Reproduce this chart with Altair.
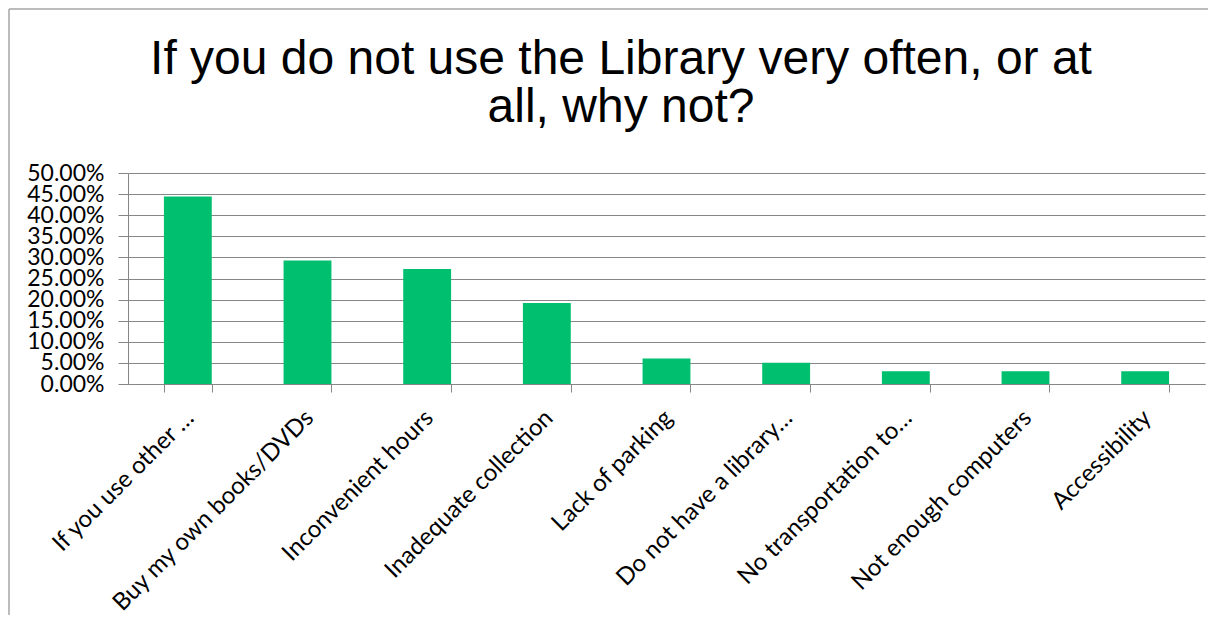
import altair as alt
import pandas as pd

categories = [
    "If you use other …",
    "Buy my own books/DVDs",
    "Inconvenient hours",
    "Inadequate collection",
    "Lack of parking",
    "Do not have a library…",
    "No transportation to…",
    "Not enough computers",
    "Accessibility",
]
values = [0.4444, 0.2929, 0.2727, 0.1919, 0.0606, 0.0505, 0.0303, 0.0303, 0.0303]
y_ticks = [0.0, 0.05, 0.10, 0.15, 0.20, 0.25, 0.30, 0.35, 0.40, 0.45, 0.50]
title_text = "If you do not use the Library very often, or at\nall, why not?"

df = pd.DataFrame({"category": categories, "value": values})
first = alt.datum.category == categories[0]

W, H = 1077, 211

bars = alt.Chart(df).mark_bar(color="#00BF6F").encode(
    x=alt.X(
        "category:N",
        sort=categories,
        scale=alt.Scale(paddingInner=0.6, paddingOuter=0.3),
        axis=alt.Axis(
            title=None,
            labelAngle=-45,
            labelAlign="right",
            labelBaseline="middle",
            labelFont="Lato",
            labelFontSize=24,
            labelColor="#000000",
            labelPadding=22,
            labelOffset=2,
            tickBand="extent",
            tickSize=8,
            tickColor="#868686",
            domainColor="#868686",
            labelLimit=0,
        ),
    ),
    y=alt.Y(
        "value:Q",
        scale=alt.Scale(domain=[0, 0.5], nice=False),
        axis=alt.Axis(
            title=None,
            values=y_ticks,
            format=".2%",
            labelFont="Lato",
            labelFontSize=23,
            labelColor="#000000",
            labelPadding=14,
            tickSize=10,
            tickColor="#868686",
            domainColor="#868686",
            gridColor="#868686",
            labelOverlap=False,
            labelFlush=False,
        ),
    ),
)

# chart frame: only its top and left edges fall inside the picture
frame_top = alt.Chart(df).transform_filter(first).mark_rule(
    stroke="#a6a6a6", strokeWidth=1.5, clip=False
).encode(x=alt.value(-119), x2=alt.value(1080), y=alt.value(-164))

frame_left = alt.Chart(df).transform_filter(first).mark_rule(
    stroke="#a6a6a6", strokeWidth=1.5, clip=False
).encode(x=alt.value(-119), y=alt.value(-164), y2=alt.value(442))

title = alt.Chart(df).transform_filter(first).mark_text(
    font="Liberation Sans",
    fontSize=48,
    color="#000000",
    align="center",
    baseline="alphabetic",
    lineBreak="\n",
    lineHeight=48,
).encode(
    x=alt.value(493), y=alt.value(-99), text=alt.value(title_text)
)

chart = alt.layer(frame_top, frame_left, title, bars).properties(
    width=W,
    height=H,
    padding={"left": 120, "top": 165, "right": 5, "bottom": 232},
    autosize=alt.AutoSizeParams(type="none"),
).configure_view(stroke=None).configure_axis(gridWidth=1, domainWidth=1, tickWidth=1)

chart.save("out.html", embed_options={"renderer": "svg", "actions": False})
